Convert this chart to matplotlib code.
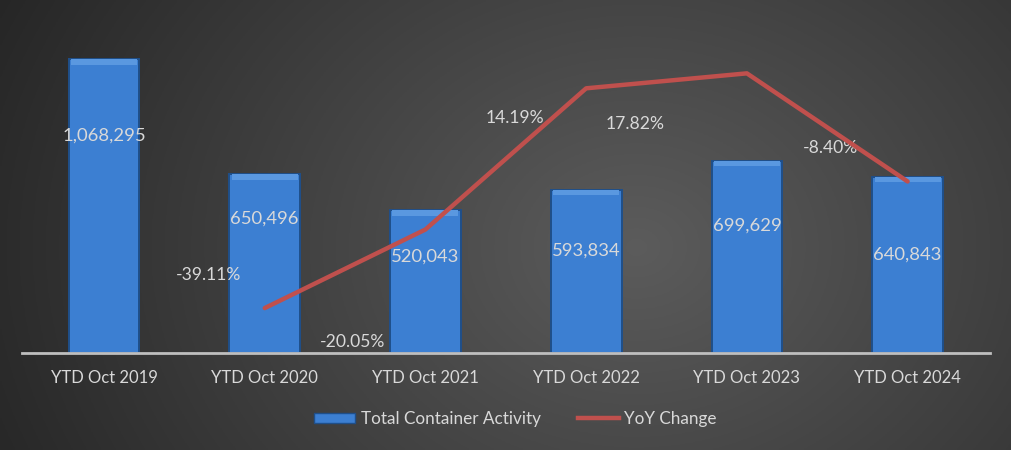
import numpy as np
import matplotlib.pyplot as plt
from matplotlib.lines import Line2D
from matplotlib.patches import Patch

categories = ["YTD Oct 2019", "YTD Oct 2020", "YTD Oct 2021", "YTD Oct 2022", "YTD Oct 2023", "YTD Oct 2024"]
activity = [1068295, 650496, 520043, 593834, 699629, 640843]
yoy = [None, -39.11, -20.05, 14.19, 17.82, -8.40]
# label placement (pixels)
bar_label_drop = [76, 44, 47, 61, 65, 78]
yoy_label_off = [None, (-56, 33), (-73, -113), (-71, -30), (-112, -51), (-77, 33)]

plt.rcParams['font.family'] = ['Lato', 'DejaVu Sans']
txt = '#d9d9d9'

fig = plt.figure(figsize=(10.11, 4.5), dpi=100)

# radial gradient background
bg = fig.add_axes([0, 0, 1, 1])
gx, gy = np.meshgrid(np.linspace(0, 1, 400), np.linspace(0, 1, 200))
d = np.sqrt(((gx - 0.63) * 1.0) ** 2 + ((gy - 0.45) * 0.55) ** 2)
shade = np.clip(0.36 - 0.30 * d, 0.11, 0.36)
bg.imshow(np.dstack([shade] * 3), extent=[0, 1, 0, 1], aspect='auto', origin='lower')
bg.axis('off')

ax = fig.add_axes([0.0218, 0.2156, 0.957, 0.733])
ax.patch.set_alpha(0)
x = np.arange(len(categories))
ax.bar(x, activity, width=0.44, color='#3c7fd2', edgecolor='#1f4f8a', linewidth=1.4, zorder=2)
# bevel strip on top of bars
bev = 20000
ax.bar(x, [bev] * len(x), bottom=[a - bev for a in activity], width=0.41,
       color='#5a98e0', linewidth=0, zorder=3)
ax.set_ylim(0, 1200000)
ax.set_xlim(-0.51, 5.51)
ax.set_yticks([])
for s in ['top', 'right', 'left']:
    ax.spines[s].set_visible(False)
ax.spines['bottom'].set_color('#bfbfbf')
ax.spines['bottom'].set_linewidth(2)
ax.set_xticks(x)
ax.set_xticklabels(categories, color=txt, fontsize=12)
ax.tick_params(axis='x', length=0, pad=12)

for i, v in enumerate(activity):
    ax.annotate(f"{v:,}", (x[i], v), xytext=(0, -bar_label_drop[i]), textcoords='offset pixels',
                ha='center', va='center', color=txt, fontsize=13.3, zorder=5)

ax2 = ax.twinx()
ax2.set_ylim(-50, 30)
ax2.set_yticks([])
for s in ax2.spines.values():
    s.set_visible(False)
lx = x[1:]
ly = yoy[1:]
ax2.plot(lx, ly, color='#c0504d', linewidth=3.2, solid_capstyle='round', zorder=4)
for i in range(1, len(x)):
    dx, dy = yoy_label_off[i]
    ax2.annotate(f"{yoy[i]:.2f}%", (x[i], yoy[i]), xytext=(dx, dy), textcoords='offset pixels',
                 ha='center', va='center', color=txt, fontsize=12.6)

handles = [Patch(facecolor='#3c7fd2', edgecolor='#1f4f8a'),
           Line2D([0], [0], color='#c0504d', linewidth=3.2)]
fig.legend(handles, ["Total Container Activity", "YoY Change"], loc='center',
           bbox_to_anchor=(0.51, 0.069), ncol=2, frameon=False, fontsize=12.3,
           labelcolor=txt, handlelength=2.4, handleheight=0.5, handletextpad=0.3,
           columnspacing=2.2)

fig.savefig('out.png', dpi=100)
